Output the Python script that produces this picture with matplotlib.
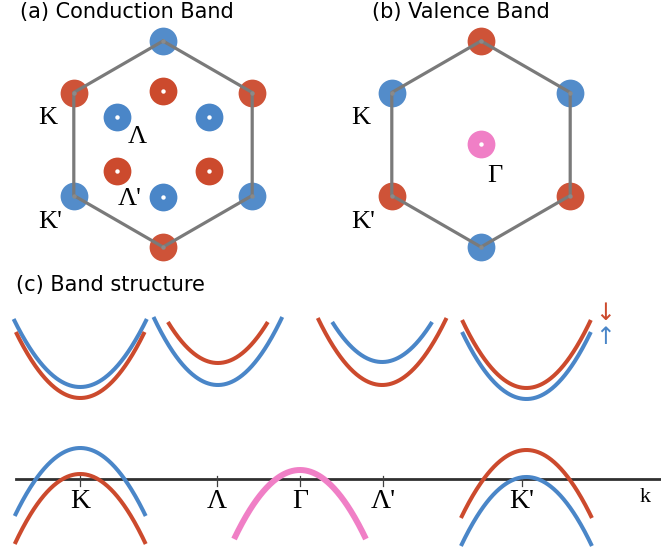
import numpy as np
import matplotlib
matplotlib.use("Agg")
import matplotlib.pyplot as plt

W, H = 661, 554
BLUE = "#4a86c8"
RED = "#cc4a2d"
PINK = "#f07fc6"
GRAY = "#7a7a7a"
SERIF = ["Liberation Serif", "DejaVu Serif"]

# Brillouin zone: spin colour of the corner valleys (starting at the top vertex, counter-clockwise)
cond_corner_colors = [BLUE, RED, BLUE, RED, BLUE, RED]
# Lambda valleys at half radius, starting at 90 deg, counter-clockwise
cond_inner_colors = [RED, BLUE, RED, BLUE, RED, BLUE]
val_corner_colors = [RED, BLUE, RED, BLUE, RED, BLUE]

# band structure: valley position, extremum energy, half width, energy at the edges
band_k0 = [-0.99, -0.99, -0.37, -0.37, 0.37, 0.37, 1.02, 1.02,
           -0.99, -0.99, 0.00, 1.02, 1.02]
band_e0 = [0.92, 0.81, 0.94, 1.16, 1.17, 0.94, 0.91, 0.80,
           0.31, 0.05, 0.09, 0.29, 0.02]
band_half = [0.30, 0.29, 0.29, 0.225, 0.225, 0.29, 0.29, 0.29,
             0.295, 0.295, 0.297, 0.295, 0.295]
band_edge = [1.60, 1.47, 1.62, 1.57, 1.57, 1.61, 1.59, 1.47,
             -0.37, -0.65, -0.60, -0.39, -0.67]
band_color = [BLUE, RED, BLUE, RED, BLUE, RED, RED, BLUE,
              BLUE, RED, PINK, RED, BLUE]

tick_k = [-0.99, -0.375, 0.0, 0.375, 1.0]
tick_labels = ["K", "Λ", "Γ", "Λ'", "K'"]


def hex_axes(fig, x0, cx, cy, r=103.0, w=330.0, h=270.0):
    ax = fig.add_axes([x0 / W, 1 - h / H, w / W, h / H])
    ax.set_xlim((x0 - cx) / r, (x0 + w - cx) / r)
    ax.set_ylim((cy - h) / r, cy / r)
    ax.axis("off")
    return ax


def draw_zone(ax, corner_colors):
    ang = np.deg2rad(90 + 60 * np.arange(7))
    ax.plot(np.cos(ang), np.sin(ang), color=GRAY, lw=2.3, zorder=3,
            solid_capstyle="round")
    for i, c in enumerate(corner_colors):
        ax.plot(np.cos(ang[i]), np.sin(ang[i]), "o", ms=20, color=c,
                mec="none", alpha=0.95, zorder=2)
        ax.plot(np.cos(ang[i]), np.sin(ang[i]), "o", ms=3.2, color="#8a8a8a",
                mec="none", zorder=4)


def valley(ax, x, y, c):
    ax.plot(x, y, "o", ms=20, color=c, mec="none", zorder=2)
    ax.plot(x, y, "o", ms=3.2, color="white", mec="none", zorder=4)


fig = plt.figure(figsize=(W / 100, H / 100), dpi=100)

# (a) conduction band
ax_a = hex_axes(fig, 0, 163, 144)
draw_zone(ax_a, cond_corner_colors)
for i, c in enumerate(cond_inner_colors):
    a = np.deg2rad(90 + 60 * i)
    valley(ax_a, 0.515 * np.cos(a), 0.515 * np.sin(a), c)
ax_a.text(-1.117, 0.25, "K", family=SERIF, fontsize=19, ha="center", va="center")
ax_a.text(-1.10, -0.76, "K'", family=SERIF, fontsize=19, ha="center", va="center")
ax_a.text(-0.25, 0.065, "Λ", family=SERIF, fontsize=19, ha="center", va="center")
ax_a.text(-0.32, -0.53, "Λ'", family=SERIF, fontsize=19, ha="center", va="center")

# (b) valence band
ax_b = hex_axes(fig, 330, 481, 144)
draw_zone(ax_b, val_corner_colors)
valley(ax_b, 0, 0, PINK)
ax_b.text(-1.165, 0.25, "K", family=SERIF, fontsize=19, ha="center", va="center")
ax_b.text(-1.145, -0.76, "K'", family=SERIF, fontsize=19, ha="center", va="center")
ax_b.text(0.13, -0.31, "Γ", family=SERIF, fontsize=19, ha="center", va="center")

# (c) band structure
top = 300
ax_c = fig.add_axes([0, 0, 1, (H - top) / H])
ax_c.set_xlim((0 - 300) / 222, (W - 300) / 222)
ax_c.set_ylim((479 - H) / 100, (479 - top) / 100)
ax_c.axis("off")

for k0, e0, hw, ee, c in zip(band_k0, band_e0, band_half, band_edge, band_color):
    k = np.linspace(k0 - hw, k0 + hw, 200)
    e = e0 + (ee - e0) * ((k - k0) / hw) ** 2
    lw = 4.3 if c == PINK else 2.9
    ax_c.plot(k, e, color=c, lw=lw, solid_capstyle="butt", zorder=3)

ax_c.plot([(16 - 300) / 222, (W - 300) / 222], [0, 0], color="#303030",
          lw=2.0, zorder=2)
for kt, lab in zip(tick_k, tick_labels):
    ax_c.plot([kt, kt], [0.03, -0.07], color="#404040", lw=0.9, zorder=2)
    ax_c.text(kt, -0.22, lab, family=SERIF, fontsize=20, ha="center", va="center")
ax_c.text((645 - 300) / 222, -0.18, "k", family=SERIF, fontsize=16,
          ha="center", va="center")
ax_c.text((605 - 300) / 222, 1.66, "↓", family=["DejaVu Sans"], fontsize=17,
          color=RED, ha="center", va="center")
ax_c.text((605 - 300) / 222, 1.42, "↑", family=["DejaVu Sans"], fontsize=17,
          color=BLUE, ha="center", va="center")

fig.text(20 / W, 1 - 18 / H, "(a) Conduction Band", fontsize=15, ha="left", va="baseline")
fig.text(372 / W, 1 - 18 / H, "(b) Valence Band", fontsize=15, ha="left", va="baseline")
fig.text(16 / W, 1 - 291 / H, "(c) Band structure", fontsize=15, ha="left", va="baseline")

fig.savefig("out.png", dpi=100)
